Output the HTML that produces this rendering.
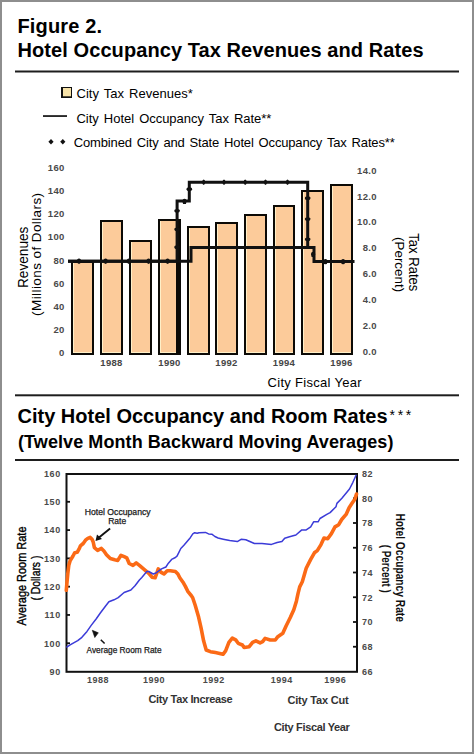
<!DOCTYPE html>
<html><head><meta charset="utf-8"><style>
html,body{margin:0;padding:0;background:#fff;}
#page{position:relative;width:474px;height:754px;box-sizing:border-box;border:2px solid #8e8e8e;overflow:hidden;background:#fff;}
svg{position:absolute;left:-2px;top:-2px;}
</style></head><body><div id="page">
<svg width="474" height="754" viewBox="0 0 474 754" font-family='"Liberation Sans", sans-serif'>
<text x="17.5" y="33" font-size="20" font-weight="bold" letter-spacing="0.15">Figure 2.</text>
<text x="17.5" y="57" font-size="20" font-weight="bold" letter-spacing="0.08">Hotel Occupancy Tax Revenues and Rates</text>
<rect x="15" y="70.5" width="444" height="2" fill="#1e1e1e"/>
<rect x="61" y="87" width="11" height="11" fill="#111"/>
<rect x="63" y="88" width="8" height="8.3" fill="#f6e2a8"/>
<text x="76.5" y="98" font-size="13" word-spacing="1.5">City Tax Revenues*</text>
<rect x="43" y="115.2" width="24" height="1.7" fill="#111"/>
<text x="76.5" y="122.5" font-size="13" letter-spacing="-0.03" word-spacing="1.5">City Hotel Occupancy Tax Rate**</text>
<path d="M51,139 L53.6,141.7 L51,144.4 L48.4,141.7 Z" fill="#111"/>
<path d="M62.8,139 L65.4,141.7 L62.8,144.4 L60.2,141.7 Z" fill="#111"/>
<text x="73.8" y="146.5" font-size="13" letter-spacing="-0.16" word-spacing="1.5">Combined City and State Hotel Occupancy Tax Rates**</text>
<text x="64.6" y="171" font-size="9.5" font-weight="bold" letter-spacing="0.3" fill="#4a4a4a" text-anchor="end">160</text>
<text x="64.6" y="194.15" font-size="9.5" font-weight="bold" letter-spacing="0.3" fill="#4a4a4a" text-anchor="end">140</text>
<text x="64.6" y="217.3" font-size="9.5" font-weight="bold" letter-spacing="0.3" fill="#4a4a4a" text-anchor="end">120</text>
<text x="64.6" y="240.45" font-size="9.5" font-weight="bold" letter-spacing="0.3" fill="#4a4a4a" text-anchor="end">100</text>
<text x="64.6" y="263.6" font-size="9.5" font-weight="bold" letter-spacing="0.3" fill="#4a4a4a" text-anchor="end">80</text>
<text x="64.6" y="286.75" font-size="9.5" font-weight="bold" letter-spacing="0.3" fill="#4a4a4a" text-anchor="end">60</text>
<text x="64.6" y="309.9" font-size="9.5" font-weight="bold" letter-spacing="0.3" fill="#4a4a4a" text-anchor="end">40</text>
<text x="64.6" y="333.05" font-size="9.5" font-weight="bold" letter-spacing="0.3" fill="#4a4a4a" text-anchor="end">20</text>
<text x="64.6" y="356.2" font-size="9.5" font-weight="bold" letter-spacing="0.3" fill="#4a4a4a" text-anchor="end">0</text>
<text x="376.8" y="173.6" font-size="9.5" font-weight="bold" letter-spacing="0.3" fill="#4a4a4a" text-anchor="end">14.0</text>
<text x="376.8" y="199.53" font-size="9.5" font-weight="bold" letter-spacing="0.3" fill="#4a4a4a" text-anchor="end">12.0</text>
<text x="376.8" y="225.46" font-size="9.5" font-weight="bold" letter-spacing="0.3" fill="#4a4a4a" text-anchor="end">10.0</text>
<text x="376.8" y="251.39" font-size="9.5" font-weight="bold" letter-spacing="0.3" fill="#4a4a4a" text-anchor="end">8.0</text>
<text x="376.8" y="277.32" font-size="9.5" font-weight="bold" letter-spacing="0.3" fill="#4a4a4a" text-anchor="end">6.0</text>
<text x="376.8" y="303.25" font-size="9.5" font-weight="bold" letter-spacing="0.3" fill="#4a4a4a" text-anchor="end">4.0</text>
<text x="376.8" y="329.18" font-size="9.5" font-weight="bold" letter-spacing="0.3" fill="#4a4a4a" text-anchor="end">2.0</text>
<text x="376.8" y="355.11" font-size="9.5" font-weight="bold" letter-spacing="0.3" fill="#4a4a4a" text-anchor="end">0.0</text>
<rect x="71" y="261" width="23" height="94" fill="#0c0a06"/>
<rect x="73" y="263" width="19" height="90" fill="#fff0c8"/>
<rect x="74" y="263" width="18" height="89" fill="#fccb9a"/>
<rect x="100" y="220" width="23" height="135" fill="#0c0a06"/>
<rect x="102" y="222" width="19" height="131" fill="#fff0c8"/>
<rect x="103" y="222" width="18" height="130" fill="#fccb9a"/>
<rect x="129" y="240" width="23" height="115" fill="#0c0a06"/>
<rect x="131" y="242" width="19" height="111" fill="#fff0c8"/>
<rect x="132" y="242" width="18" height="110" fill="#fccb9a"/>
<rect x="158" y="219" width="23" height="136" fill="#0c0a06"/>
<rect x="160" y="221" width="19" height="132" fill="#fff0c8"/>
<rect x="161" y="221" width="18" height="131" fill="#fccb9a"/>
<rect x="187" y="226" width="23" height="129" fill="#0c0a06"/>
<rect x="189" y="228" width="19" height="125" fill="#fff0c8"/>
<rect x="190" y="228" width="18" height="124" fill="#fccb9a"/>
<rect x="215" y="222" width="23" height="133" fill="#0c0a06"/>
<rect x="217" y="224" width="19" height="129" fill="#fff0c8"/>
<rect x="218" y="224" width="18" height="128" fill="#fccb9a"/>
<rect x="244" y="214" width="23" height="141" fill="#0c0a06"/>
<rect x="246" y="216" width="19" height="137" fill="#fff0c8"/>
<rect x="247" y="216" width="18" height="136" fill="#fccb9a"/>
<rect x="273" y="205" width="22" height="150" fill="#0c0a06"/>
<rect x="275" y="207" width="18" height="146" fill="#fff0c8"/>
<rect x="276" y="207" width="17" height="145" fill="#fccb9a"/>
<rect x="301" y="190" width="23" height="165" fill="#0c0a06"/>
<rect x="303" y="192" width="19" height="161" fill="#fff0c8"/>
<rect x="304" y="192" width="18" height="160" fill="#fccb9a"/>
<rect x="330" y="184" width="23" height="171" fill="#0c0a06"/>
<rect x="332" y="186" width="19" height="167" fill="#fff0c8"/>
<rect x="333" y="186" width="18" height="166" fill="#fccb9a"/>
<rect x="176" y="219" width="5" height="136" fill="#0c0a06"/>
<text x="111.5" y="365.8" font-size="9.5" font-weight="bold" letter-spacing="0.3" fill="#454545" text-anchor="middle">1988</text>
<text x="169.5" y="365.8" font-size="9.5" font-weight="bold" letter-spacing="0.3" fill="#454545" text-anchor="middle">1990</text>
<text x="226.5" y="365.8" font-size="9.5" font-weight="bold" letter-spacing="0.3" fill="#454545" text-anchor="middle">1992</text>
<text x="284" y="365.8" font-size="9.5" font-weight="bold" letter-spacing="0.3" fill="#454545" text-anchor="middle">1994</text>
<text x="341.5" y="365.8" font-size="9.5" font-weight="bold" letter-spacing="0.3" fill="#454545" text-anchor="middle">1996</text>
<path d="M68,261.3 H191 V247.6 H314 V261.6 H354.5" fill="none" stroke="#111" stroke-width="3"/>
<path d="M68,261.3 H177.1 V201 H189.3 V182.3 H307.7 V247.7" fill="none" stroke="#111" stroke-width="3"/>
<ellipse cx="79" cy="261.3" rx="2.1" ry="2.7" fill="#111"/>
<ellipse cx="105.6" cy="261.3" rx="2.1" ry="2.7" fill="#111"/>
<ellipse cx="128.9" cy="261.3" rx="2.1" ry="2.7" fill="#111"/>
<ellipse cx="148.6" cy="261.3" rx="2.1" ry="2.7" fill="#111"/>
<ellipse cx="167.6" cy="261.3" rx="2.1" ry="2.7" fill="#111"/>
<ellipse cx="177.1" cy="247.2" rx="2.8" ry="1.9" fill="#111"/>
<ellipse cx="177.1" cy="229.3" rx="2.8" ry="1.9" fill="#111"/>
<ellipse cx="177.1" cy="210.8" rx="2.8" ry="1.9" fill="#111"/>
<ellipse cx="184.5" cy="201.4" rx="2.1" ry="2.7" fill="#111"/>
<ellipse cx="189.3" cy="189.2" rx="2.8" ry="1.9" fill="#111"/>
<ellipse cx="203.7" cy="182.3" rx="1.5" ry="2.7" fill="#111"/>
<ellipse cx="224" cy="182.3" rx="1.5" ry="2.7" fill="#111"/>
<ellipse cx="245.2" cy="182.3" rx="1.5" ry="2.7" fill="#111"/>
<ellipse cx="265.5" cy="182.3" rx="1.5" ry="2.7" fill="#111"/>
<ellipse cx="287.5" cy="182.3" rx="1.5" ry="2.7" fill="#111"/>
<ellipse cx="307.7" cy="198.2" rx="2.8" ry="1.9" fill="#111"/>
<ellipse cx="307.7" cy="219.1" rx="2.8" ry="1.9" fill="#111"/>
<ellipse cx="307.7" cy="239.3" rx="2.8" ry="1.9" fill="#111"/>
<ellipse cx="313.1" cy="254.4" rx="2.1" ry="2.7" fill="#111"/>
<ellipse cx="325.4" cy="261.6" rx="2.1" ry="2.7" fill="#111"/>
<ellipse cx="343.1" cy="261.6" rx="2.1" ry="2.7" fill="#111"/>
<text x="267.5" y="387.3" font-size="13" letter-spacing="0.3">City Fiscal Year</text>
<text transform="translate(28,257.3) rotate(-90)" font-size="14" text-anchor="middle" textLength="61.5" lengthAdjust="spacingAndGlyphs">Revenues</text>
<text transform="translate(40.8,254.4) rotate(-90)" font-size="13.5" text-anchor="middle" textLength="123" lengthAdjust="spacing">(Millions of Dollars)</text>
<text transform="translate(408.5,262.3) rotate(90)" font-size="14" text-anchor="middle" textLength="58" lengthAdjust="spacingAndGlyphs">Tax Rates</text>
<text transform="translate(395,264.6) rotate(90)" font-size="13.5" text-anchor="middle" textLength="55" lengthAdjust="spacingAndGlyphs">(Percent)</text>
<rect x="15" y="394.3" width="444" height="2" fill="#1e1e1e"/>
<text x="17.5" y="423" font-size="20" font-weight="bold">City Hotel Occupancy and Room Rates<tspan font-size="14" font-weight="normal" dy="-3.3" dx="2" letter-spacing="2.6">***</tspan></text>
<text x="18" y="447.5" font-size="18" font-weight="bold" letter-spacing="0.08">(Twelve Month Backward Moving Averages)</text>
<rect x="15" y="459" width="444" height="2" fill="#1e1e1e"/>
<rect x="66.5" y="474" width="290.5" height="197.79999999999995" fill="none" stroke="#111" stroke-width="2"/>
<text x="60.8" y="476.8" font-size="9" font-weight="bold" letter-spacing="0.6" fill="#4a4a4a" text-anchor="end">160</text>
<text x="60.8" y="505.09" font-size="9" font-weight="bold" letter-spacing="0.6" fill="#4a4a4a" text-anchor="end">150</text>
<rect x="66.5" y="500.89" width="3.5" height="1.8" fill="#111"/>
<text x="60.8" y="533.38" font-size="9" font-weight="bold" letter-spacing="0.6" fill="#4a4a4a" text-anchor="end">140</text>
<rect x="66.5" y="529.18" width="3.5" height="1.8" fill="#111"/>
<text x="60.8" y="561.67" font-size="9" font-weight="bold" letter-spacing="0.6" fill="#4a4a4a" text-anchor="end">130</text>
<rect x="66.5" y="557.47" width="3.5" height="1.8" fill="#111"/>
<text x="60.8" y="589.96" font-size="9" font-weight="bold" letter-spacing="0.6" fill="#4a4a4a" text-anchor="end">120</text>
<rect x="66.5" y="585.76" width="3.5" height="1.8" fill="#111"/>
<text x="60.8" y="618.25" font-size="9" font-weight="bold" letter-spacing="0.6" fill="#4a4a4a" text-anchor="end">110</text>
<rect x="66.5" y="614.05" width="3.5" height="1.8" fill="#111"/>
<text x="60.8" y="646.54" font-size="9" font-weight="bold" letter-spacing="0.6" fill="#4a4a4a" text-anchor="end">100</text>
<rect x="66.5" y="642.34" width="3.5" height="1.8" fill="#111"/>
<text x="60.8" y="674.83" font-size="9" font-weight="bold" letter-spacing="0.6" fill="#4a4a4a" text-anchor="end">90</text>
<text x="362" y="476.8" font-size="9" font-weight="bold" letter-spacing="0.6" fill="#4a4a4a">82</text>
<text x="362" y="501.55" font-size="9" font-weight="bold" letter-spacing="0.6" fill="#4a4a4a">80</text>
<rect x="353" y="497.35" width="4" height="1.8" fill="#111"/>
<text x="362" y="526.3" font-size="9" font-weight="bold" letter-spacing="0.6" fill="#4a4a4a">78</text>
<rect x="353" y="522.1" width="4" height="1.8" fill="#111"/>
<text x="362" y="551.05" font-size="9" font-weight="bold" letter-spacing="0.6" fill="#4a4a4a">76</text>
<rect x="353" y="546.85" width="4" height="1.8" fill="#111"/>
<text x="362" y="575.8" font-size="9" font-weight="bold" letter-spacing="0.6" fill="#4a4a4a">74</text>
<rect x="353" y="571.6" width="4" height="1.8" fill="#111"/>
<text x="362" y="600.55" font-size="9" font-weight="bold" letter-spacing="0.6" fill="#4a4a4a">72</text>
<rect x="353" y="596.35" width="4" height="1.8" fill="#111"/>
<text x="362" y="625.3" font-size="9" font-weight="bold" letter-spacing="0.6" fill="#4a4a4a">70</text>
<rect x="353" y="621.1" width="4" height="1.8" fill="#111"/>
<text x="362" y="650.05" font-size="9" font-weight="bold" letter-spacing="0.6" fill="#4a4a4a">68</text>
<rect x="353" y="645.85" width="4" height="1.8" fill="#111"/>
<text x="362" y="674.8" font-size="9" font-weight="bold" letter-spacing="0.6" fill="#4a4a4a">66</text>
<text x="98" y="683.3" font-size="9" font-weight="bold" letter-spacing="0.5" fill="#4a4a4a" text-anchor="middle">1988</text>
<text x="153.9" y="683.3" font-size="9" font-weight="bold" letter-spacing="0.5" fill="#4a4a4a" text-anchor="middle">1990</text>
<text x="213.8" y="683.3" font-size="9" font-weight="bold" letter-spacing="0.5" fill="#4a4a4a" text-anchor="middle">1992</text>
<text x="281.8" y="683.3" font-size="9" font-weight="bold" letter-spacing="0.5" fill="#4a4a4a" text-anchor="middle">1994</text>
<text x="335.2" y="683.3" font-size="9" font-weight="bold" letter-spacing="0.5" fill="#4a4a4a" text-anchor="middle">1996</text>
<polyline fill="none" stroke="#fb6a16" stroke-width="3.6" stroke-linejoin="round" stroke-linecap="round" points="66.3,590.3 67,582 67.9,572.7 68.8,565.3 70.2,560.6 73,556 74.8,552.7 77.2,552.3 79.5,548.1 80.4,545.8 83.2,543.5 85.5,540.2 87.8,538.4 90.2,537.4 92,539.3 93.2,542 94.4,547.7 97.6,550.3 101.4,548.4 103.9,550.9 106.5,554.7 110.3,558.5 114.7,559.7 117.8,560.4 121,555.3 124.2,556.6 126.7,557.8 129.2,563.5 133,565.4 136.2,562.9 139.4,565.4 143.2,568.6 148.8,573.4 152,577.2 155.1,577.8 157,572.7 158.3,568.9 160.8,572.1 164,574 167.2,570.8 170.3,570.8 175.4,571.5 177.9,574 179.8,577.8 183,582.2 185.5,586.6 188,591.7 191.2,595.5 192.7,597.7 195.2,605.3 198.6,617.1 201.1,628.1 203.6,640.8 206.2,650 210.4,651.7 215.4,652.6 219.7,653.4 223,654.3 225.6,650.9 228.9,642.4 232.3,638.2 235.7,639.9 238.2,643.3 242.4,645 244.1,647.5 249.2,646.7 252.6,642.4 255.9,640.8 260.1,642.9 262.6,641.7 265.1,638.4 270.2,640 275.3,640 277.8,636.7 282.8,633.3 286.2,625.7 290.4,617.3 293.8,609.7 296.4,601.2 298,593.6 299.7,586.9 302.3,581.8 306.2,568.3 310.7,559.4 314.4,552.8 317.3,550.6 321,544.6 324,538 327.7,538.7 331.4,533.6 335,526.9 338.7,524.7 341.7,519.5 346.1,514.4 349.1,507.7 352,503.3 355,498.9 356.5,494"/>
<polyline fill="none" stroke="#3b3bd8" stroke-width="1.5" stroke-linejoin="round" points="66.4,647.4 70.1,644.9 77.7,640.6 81.9,637.3 87,631.4 91.2,625.4 96.3,618.7 100.5,612.8 105.6,606 108.9,601.8 114,599.8 118.2,597.6 124.1,592.5 130.9,590 135,585.8 139.4,580 141.8,577.4 146.8,571.5 148.8,571.5 153.2,574 156.4,572.7 161.5,568.9 165.9,567 168.4,563.2 171.6,559.4 175.4,557.5 177,556.1 178.9,552.3 180.8,548.5 183.9,545.3 187.1,541.5 190.3,537.7 192.8,533.9 194.7,532.7 197.2,533.3 199.1,532.7 205.4,532.4 208.6,533.9 211.8,534.2 214.9,536.5 218.1,538 223.2,539.2 229.7,540.6 237.3,541.6 241.1,539.3 245.8,539.7 254.4,543.5 262,543.5 271.5,544.4 277.1,542.5 281.9,541.6 284.7,538.2 289.5,536.8 295.9,535 301.8,529.9 306.2,529.9 310.7,526.9 313.6,521.8 318.1,521.8 320,518.5 326.8,514.3 330.1,512.6 336,506.7 336.9,503.4 341.9,498.3 349.5,489 352.9,482.3 356.3,474.7"/>
<text x="117.7" y="515.2" font-size="8.5" text-anchor="middle" fill="#1a1a1a" stroke="#1a1a1a" stroke-width="0.25" textLength="66" lengthAdjust="spacingAndGlyphs">Hotel Occupancy</text>
<text x="117.2" y="523.7" font-size="8.5" text-anchor="middle" fill="#1a1a1a" stroke="#1a1a1a" stroke-width="0.25">Rate</text>
<line x1="110.1" y1="528.5" x2="99" y2="537.5" stroke="#111" stroke-width="1.9"/>
<path d="M95.5,541 L97,534.5 L102,539 Z" fill="#111"/>
<text x="86.5" y="653.2" font-size="8.5" fill="#1a1a1a" stroke="#1a1a1a" stroke-width="0.25" textLength="75" lengthAdjust="spacingAndGlyphs">Average Room Rate</text>
<line x1="100.8" y1="639.7" x2="104.6" y2="643.5" stroke="#111" stroke-width="1.5"/>
<path d="M92.3,630.3 L98.3,632.8 L94.8,637.5 Z" fill="#111" stroke="#111" stroke-width="0.6" stroke-linejoin="round"/>
<text transform="translate(26.1,576) rotate(-90)" font-size="12" text-anchor="middle" stroke="#000" stroke-width="0.35" textLength="99" lengthAdjust="spacingAndGlyphs">Average Room Rate</text>
<text transform="translate(39.6,578.1) rotate(-90)" font-size="12" text-anchor="middle" stroke="#000" stroke-width="0.35" textLength="45" lengthAdjust="spacingAndGlyphs">( Dollars )</text>
<text transform="translate(395.5,567.7) rotate(90)" font-size="12" font-weight="bold" fill="#111" text-anchor="middle" textLength="108.5" lengthAdjust="spacingAndGlyphs">Hotel Occupancy Rate</text>
<text transform="translate(382,568.7) rotate(90)" font-size="12" font-weight="bold" fill="#111" text-anchor="middle" textLength="48" lengthAdjust="spacingAndGlyphs">( Percent )</text>
<text x="148.5" y="702.5" font-size="11" font-weight="bold" letter-spacing="-0.35" fill="#333">City Tax Increase</text>
<text x="287.5" y="703.5" font-size="11" font-weight="bold" letter-spacing="-0.2" fill="#333">City Tax Cut</text>
<text x="274" y="731" font-size="11" font-weight="bold" letter-spacing="-0.35" fill="#333">City Fiscal Year</text>
</svg></div></body></html>
